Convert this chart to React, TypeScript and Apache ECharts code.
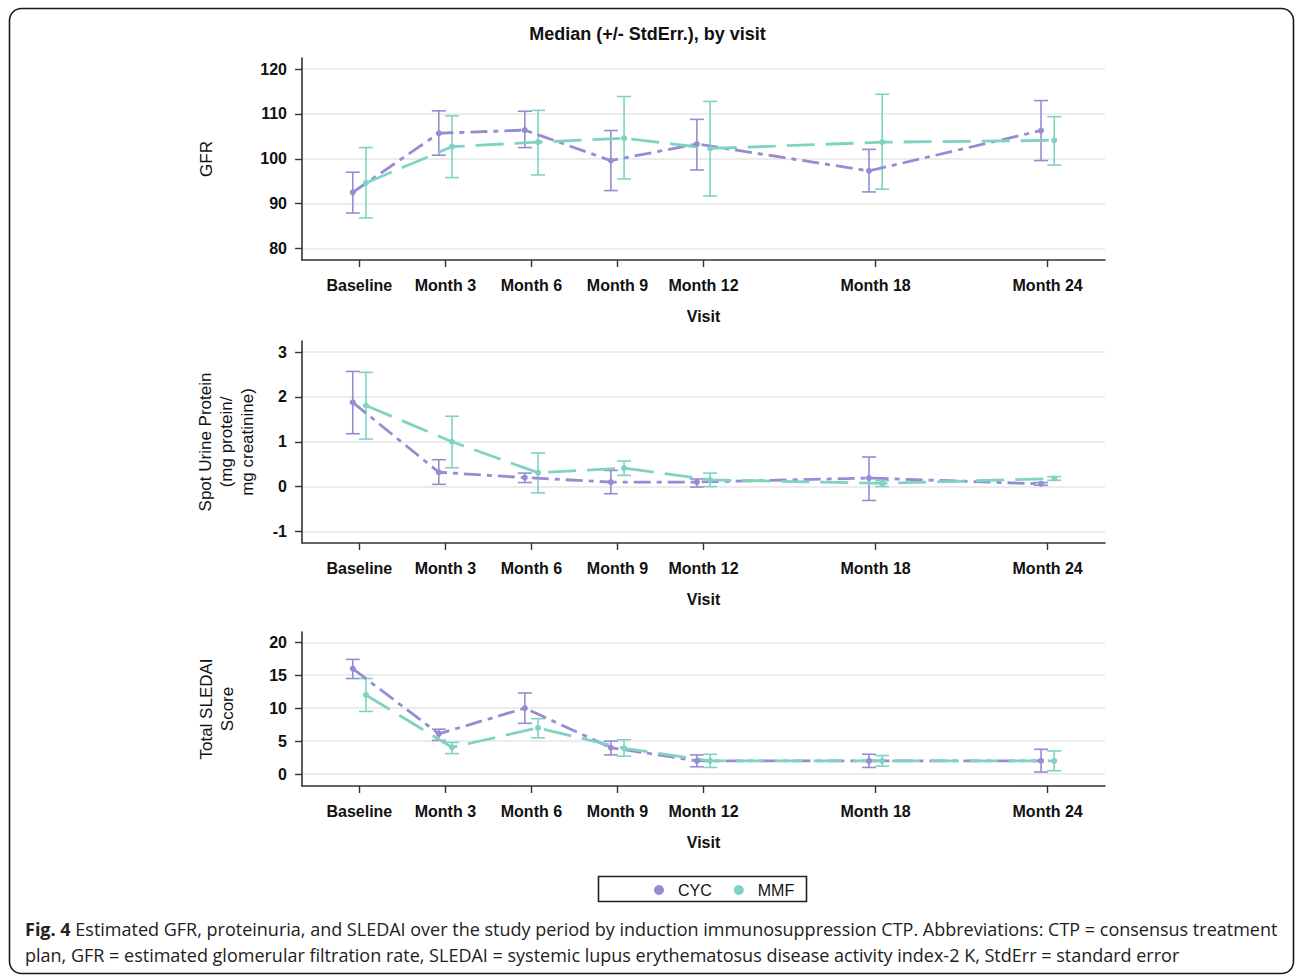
import React, { useEffect, useRef } from "react";
import * as echarts from "echarts";

// ---------- data ----------
const visitMonths = [0, 3, 6, 9, 12, 18, 24];
const visitLabels = ["Baseline", "Month 3", "Month 6", "Month 9", "Month 12", "Month 18", "Month 24"];
const groupNames = ["CYC", "MMF"];

const gfrCycMedian = [92.5, 105.7, 106.4, 99.6, 103.3, 97.3, 106.3];
const gfrCycLow = [87.9, 100.8, 102.5, 92.9, 97.5, 92.6, 99.6];
const gfrCycHigh = [97.0, 110.7, 110.6, 106.3, 108.8, 102.1, 113.0];
const gfrMmfMedian = [94.6, 102.7, 103.7, 104.6, 102.3, 103.7, 104.1];
const gfrMmfLow = [86.8, 95.8, 96.4, 95.5, 91.7, 93.2, 98.6];
const gfrMmfHigh = [102.5, 109.6, 110.8, 113.9, 112.8, 114.4, 109.4];

const upcCycMedian = [1.88, 0.32, 0.2, 0.1, 0.1, 0.19, 0.06];
const upcCycLow = [1.18, 0.05, 0.09, -0.16, -0.01, -0.31, 0.03];
const upcCycHigh = [2.57, 0.6, 0.3, 0.36, 0.17, 0.66, 0.09];
const upcMmfMedian = [1.81, 1.0, 0.31, 0.41, 0.15, 0.07, 0.18];
const upcMmfLow = [1.06, 0.42, -0.14, 0.25, 0.0, 0.0, 0.14];
const upcMmfHigh = [2.55, 1.57, 0.75, 0.57, 0.3, 0.13, 0.22];

const sledaiCycMedian = [16.0, 6.1, 10.0, 4.0, 2.0, 2.0, 2.0];
const sledaiCycLow = [14.5, 5.1, 7.7, 2.9, 1.1, 1.0, 0.3];
const sledaiCycHigh = [17.4, 6.8, 12.3, 5.0, 2.9, 3.0, 3.75];
const sledaiMmfMedian = [12.0, 4.05, 7.0, 3.9, 2.0, 2.0, 2.0];
const sledaiMmfLow = [9.5, 3.1, 5.5, 2.7, 1.0, 1.2, 0.5];
const sledaiMmfHigh = [14.5, 4.8, 8.4, 5.2, 3.0, 2.8, 3.5];

const gfrTicks = [80, 90, 100, 110, 120];
const upcTicks = [-1, 0, 1, 2, 3];
const sledaiTicks = [0, 5, 10, 15, 20];

const titleText = "Median (+/- StdErr.), by visit";
const xAxisTitle = "Visit";
const yTitles = ["GFR", "Spot Urine Protein\n(mg protein/\nmg creatinine)", "Total SLEDAI\nScore"];
const captionLine1Bold = "Fig. 4";
const captionLine1 =
  " Estimated GFR, proteinuria, and SLEDAI over the study period by induction immunosuppression CTP. Abbreviations: CTP = consensus treatment";
const captionLine2 =
  "plan, GFR = estimated glomerular filtration rate, SLEDAI = systemic lupus erythematosus disease activity index-2 K, StdErr = standard error";

// ---------- styling ----------
const CYC_COLOR = "#958cd3";
const MMF_COLOR = "#80d2c3";
const FONT = "'Liberation Sans', Arial, sans-serif";
const CAPTION_FONT = "'Open Sans', sans-serif";
const cycOffset = -0.23;
const mmfOffset = 0.23;

const grids = [
  { top: 58, height: 202, min: 77.4, max: 122.5, ticks: gfrTicks },
  { top: 341, height: 202, min: -1.26, max: 3.25, ticks: upcTicks },
  { top: 632, height: 154, min: -1.82, max: 21.56, ticks: sledaiTicks },
];

const panels = [
  { cyc: [gfrCycMedian, gfrCycLow, gfrCycHigh], mmf: [gfrMmfMedian, gfrMmfLow, gfrMmfHigh] },
  { cyc: [upcCycMedian, upcCycLow, upcCycHigh], mmf: [upcMmfMedian, upcMmfLow, upcMmfHigh] },
  { cyc: [sledaiCycMedian, sledaiCycLow, sledaiCycHigh], mmf: [sledaiMmfMedian, sledaiMmfLow, sledaiMmfHigh] },
];

function errorRender(color: string) {
  return (params: any, api: any) => {
    const x = api.value(0);
    const lo = api.coord([x, api.value(1)]);
    const hi = api.coord([x, api.value(2)]);
    const cap = 7;
    const style = { stroke: color, lineWidth: 1.6, fill: "none" };
    return {
      type: "group",
      children: [
        { type: "line", shape: { x1: lo[0], y1: lo[1], x2: hi[0], y2: hi[1] }, style },
        { type: "line", shape: { x1: lo[0] - cap, y1: lo[1], x2: lo[0] + cap, y2: lo[1] }, style },
        { type: "line", shape: { x1: hi[0] - cap, y1: hi[1], x2: hi[0] + cap, y2: hi[1] }, style },
      ],
    };
  };
}

function buildOption() {
  const gridOpts = grids.map((g) => ({ left: 302, right: 190, top: g.top, height: g.height }));
  const xAxes = grids.map((g, i) => ({
    type: "value",
    gridIndex: i,
    min: -2,
    max: 26,
    name: xAxisTitle,
    nameLocation: "middle",
    nameGap: 48,
    nameTextStyle: { fontFamily: FONT, fontSize: 16, fontWeight: "bold", color: "#111" },
    axisLine: { show: true, onZero: false, lineStyle: { color: "#333", width: 1.6 } },
    axisTick: { show: true, length: 7, customValues: visitMonths, lineStyle: { color: "#333", width: 1.4 } },
    axisLabel: {
      customValues: visitMonths,
      margin: 17,
      fontFamily: FONT,
      fontSize: 16,
      fontWeight: "bold",
      color: "#111",
      formatter: (v: number) => {
        const idx = visitMonths.indexOf(Math.round(v));
        return idx >= 0 ? visitLabels[idx] : "";
      },
    },
    splitLine: { show: false },
  }));
  const yAxes = grids.map((g, i) => ({
    type: "value",
    gridIndex: i,
    min: g.min,
    max: g.max,
    axisLine: { show: true, onZero: false, lineStyle: { color: "#333", width: 1.6 } },
    axisTick: { show: true, length: 7, customValues: g.ticks, lineStyle: { color: "#333", width: 1.4 } },
    axisLabel: {
      customValues: g.ticks,
      margin: 15,
      fontFamily: FONT,
      fontSize: 16,
      fontWeight: "bold",
      color: "#111",
    },
    splitLine: { show: true, lineStyle: { color: "#e6e6e6", width: 1.5 } },
  }));

  const series: any[] = [];
  panels.forEach((p, i) => {
    const groups = [
      { name: groupNames[0], vals: p.cyc, color: CYC_COLOR, off: cycOffset, dash: [17, 6, 5, 6] },
      { name: groupNames[1], vals: p.mmf, color: MMF_COLOR, off: mmfOffset, dash: [28, 11] },
    ];
    groups.forEach((gr) => {
      series.push({
        type: "custom",
        name: gr.name + " StdErr",
        xAxisIndex: i,
        yAxisIndex: i,
        encode: { x: 0, y: [1, 2] },
        renderItem: errorRender(gr.color),
        data: visitMonths.map((m, k) => [m + gr.off, gr.vals[1][k], gr.vals[2][k]]),
        z: 3,
        silent: true,
      });
      series.push({
        type: "line",
        name: gr.name,
        xAxisIndex: i,
        yAxisIndex: i,
        data: visitMonths.map((m, k) => [m + gr.off, gr.vals[0][k]]),
        symbol: "circle",
        symbolSize: 6,
        itemStyle: { color: gr.color },
        lineStyle: { color: gr.color, width: 2.8, type: gr.dash },
        z: 4,
      });
    });
  });

  const yTitleX = [206, 226, 217];
  const graphic: any[] = [
    {
      type: "rect",
      shape: { x: 9.5, y: 8.5, width: 1284, height: 965, r: 12 },
      style: { fill: "none", stroke: "#1a1a1a", lineWidth: 1.6 },
      z: 0,
    },
    {
      type: "rect",
      shape: { x: 598.5, y: 876.5, width: 208, height: 25 },
      style: { fill: "none", stroke: "#222", lineWidth: 1.6 },
    },
    ...grids.map((g, i) => ({
      type: "text",
      x: yTitleX[i],
      y: g.top + g.height / 2,
      rotation: Math.PI / 2,
      style: {
        text: yTitles[i],
        fontFamily: FONT,
        fontSize: 17,
        lineHeight: 21,
        fill: "#111",
        align: "center",
        verticalAlign: "middle",
      },
    })),
    {
      type: "text",
      x: 25,
      y: 929,
      style: {
        text: "{b|" + captionLine1Bold + "}" + captionLine1,
        rich: { b: { fontWeight: "bold", fontFamily: CAPTION_FONT, fontSize: 18, fill: "#222" } },
        fontFamily: CAPTION_FONT,
        fontSize: 18,
        fill: "#222",
        verticalAlign: "middle",
      },
    },
    {
      type: "text",
      x: 25,
      y: 955,
      style: {
        text: captionLine2,
        fontFamily: CAPTION_FONT,
        fontSize: 18,
        fill: "#222",
        verticalAlign: "middle",
      },
    },
  ];

  return {
    animation: false,
    backgroundColor: "#ffffff",
    title: {
      text: titleText,
      left: "center",
      top: 20,
      textStyle: { fontFamily: FONT, fontSize: 18, fontWeight: "bold", color: "#111" },
    },
    legend: {
      data: groupNames,
      left: 649,
      top: 877,
      icon: "circle",
      itemWidth: 28,
      itemHeight: 10,
      itemGap: 22,
      textStyle: { fontFamily: FONT, fontSize: 16, color: "#111" },
    },
    grid: gridOpts,
    xAxis: xAxes,
    yAxis: yAxes,
    series,
    graphic,
  };
}

export default function App() {
  const ref = useRef<HTMLDivElement>(null);
  useEffect(() => {
    if (!ref.current) return;
    const chart = echarts.init(ref.current, undefined, { renderer: "svg" });
    chart.setOption(buildOption() as any);
    return () => chart.dispose();
  }, []);
  return (
    <div
      ref={ref}
      style={{ position: "fixed", left: 0, top: 0, width: 1295, height: 975, background: "#fff" }}
    />
  );
}
